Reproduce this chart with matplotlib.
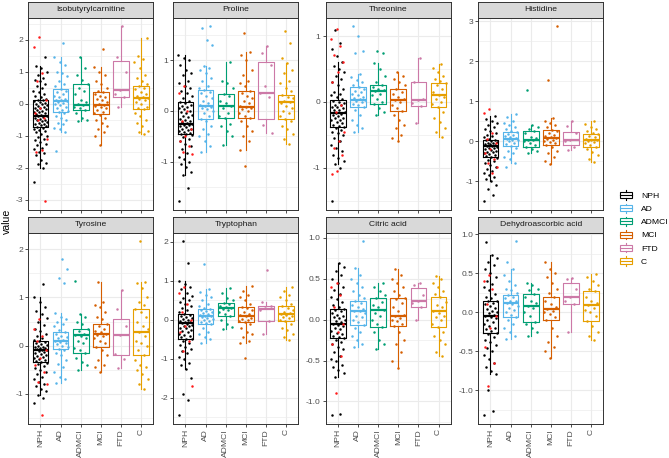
import numpy as np
import matplotlib
matplotlib.use('Agg')
import matplotlib.pyplot as plt
from matplotlib.patches import Patch, Rectangle
from matplotlib.lines import Line2D
from matplotlib.legend_handler import HandlerBase
from matplotlib.ticker import AutoMinorLocator

plt.rcParams['font.family'] = ['Liberation Sans', 'DejaVu Sans']
plt.rcParams['axes.unicode_minus'] = False

groups = ["NPH", "AD", "ADMCI", "MCI", "FTD", "C"]
colors = ["#000000", "#56B4E9", "#009E73", "#D55E00", "#CC79A7", "#E69F00"]
panel_names = ["Isobutyrylcarnitine", "Proline", "Threonine", "Histidine",
               "Tyrosine", "Tryptophan", "Citric acid", "Dehydroascorbic acid"]

# box stats per group: (whisker low, q1, median, q3, whisker high)
iso_box = [(-2.0, -0.73, -0.39, 0.12, 1.18), (-0.89, -0.26, 0.07, 0.46, 1.45),
           (-0.55, -0.19, -0.04, 0.62, 1.47), (-1.30, -0.31, -0.04, 0.35, 1.16),
           (-0.10, 0.21, 0.42, 1.32, 2.42), (-0.95, -0.17, 0.18, 0.54, 2.04)]
pro_box = [(-1.27, -0.46, -0.25, 0.17, 1.10), (-0.80, -0.15, 0.10, 0.41, 0.89),
           (-0.68, -0.14, 0.10, 0.34, 0.96), (-0.76, -0.13, 0.07, 0.40, 1.16),
           (-0.43, -0.15, 0.35, 0.96, 1.29), (-0.66, -0.15, 0.17, 0.32, 0.95)]
thr_box = [(-0.94, -0.38, -0.17, 0.025, 0.60), (-0.46, -0.07, 0.035, 0.22, 0.43),
           (-0.20, -0.03, 0.16, 0.25, 0.59), (-0.60, -0.14, 0.03, 0.20, 0.46),
           (-0.32, -0.06, 0.03, 0.31, 0.66), (-0.53, -0.08, 0.11, 0.28, 0.58)]
his_box = [(-1.00, -0.39, -0.12, 0.02, 0.62), (-0.54, -0.12, 0.06, 0.22, 0.69),
           (-0.29, -0.15, 0.04, 0.25, 0.41), (-0.56, -0.10, 0.07, 0.27, 0.58),
           (-0.23, -0.10, 0.04, 0.23, 0.51), (-0.51, -0.14, 0.02, 0.17, 0.50)]
tyr_box = [(-1.02, -0.34, -0.10, 0.10, 1.00), (-0.78, -0.07, 0.10, 0.28, 0.67),
           (-0.50, -0.16, 0.21, 0.34, 0.65), (-0.55, -0.02, 0.24, 0.45, 1.32),
           (-0.47, -0.19, 0.22, 0.56, 1.15), (-0.90, -0.19, 0.28, 0.75, 1.32)]
trp_box = [(-1.25, -0.48, -0.08, 0.15, 0.99), (-0.59, -0.10, 0.09, 0.27, 0.78),
           (-0.23, 0.09, 0.31, 0.44, 0.82), (-0.60, -0.06, 0.09, 0.33, 0.87),
           (-0.37, -0.02, 0.29, 0.36, 0.46), (-0.52, -0.02, 0.14, 0.36, 0.85)]
cit_box = [(-0.70, -0.23, -0.05, 0.13, 0.69), (-0.33, -0.06, 0.11, 0.23, 0.63),
           (-0.36, -0.09, 0.12, 0.26, 0.45), (-0.59, -0.08, 0.04, 0.27, 0.62),
           (-0.01, 0.15, 0.23, 0.39, 0.45), (-0.44, -0.09, 0.11, 0.28, 0.53)]
dha_box = [(-0.79, -0.26, -0.05, 0.15, 0.73), (-0.34, -0.06, 0.12, 0.22, 0.56),
           (-0.30, -0.12, 0.08, 0.24, 0.38), (-0.58, -0.10, 0.04, 0.20, 0.65),
           (-0.25, 0.10, 0.20, 0.37, 0.44), (-0.36, -0.11, 0.09, 0.27, 0.49)]

# individual points per group (NPH, AD, ADMCI, MCI, FTD, C)
iso_pts = [
    [-2.45, -2.0, -1.9, -1.85, -1.75, -1.6, -1.55, -1.5, -1.42, -1.4, -1.3, -1.25, -1.2,
     -1.15, -1.1, -1.05, -1.0, -0.95, -0.9, -0.85, -0.82, -0.8, -0.76, -0.74, -0.7, -0.68,
     -0.65, -0.62, -0.6, -0.58, -0.55, -0.52, -0.5, -0.47, -0.45, -0.42, -0.4, -0.38, -0.35,
     -0.32, -0.3, -0.27, -0.25, -0.22, -0.2, -0.17, -0.15, -0.12, -0.1, -0.07, -0.05, -0.02,
     0.0, 0.03, 0.05, 0.08, 0.1, 0.12, 0.15, 0.2, 0.25, 0.3, 0.35, 0.4, 0.5, 0.55, 0.6, 0.7,
     0.75, 0.8, 0.9, 1.0, 1.1, 1.18, 1.47],
    [-1.47, -0.89, -0.8, -0.75, -0.65, -0.6, -0.5, -0.45, -0.38, -0.3, -0.26, -0.22, -0.2,
     -0.15, -0.1, -0.05, 0.0, 0.03, 0.05, 0.07, 0.1, 0.12, 0.15, 0.2, 0.25, 0.3, 0.35, 0.4,
     0.46, 0.55, 0.62, 0.7, 0.85, 0.95, 1.0, 1.2, 1.3, 1.45, 1.9],
    [-0.55, -0.5, -0.45, -0.3, -0.2, -0.15, -0.1, -0.05, 0.0, 0.05, 0.1, 0.3, 0.4, 0.5,
     0.62, 0.75, 0.9, 1.1, 1.47],
    [-1.3, -1.0, -0.9, -0.8, -0.7, -0.6, -0.5, -0.45, -0.35, -0.3, -0.25, -0.2, -0.15, -0.1,
     -0.06, -0.04, 0.0, 0.05, 0.1, 0.15, 0.2, 0.25, 0.3, 0.35, 0.4, 0.5, 0.6, 0.7, 0.9, 1.0,
     1.16, 1.71],
    [2.42, 1.47, 1.0, 0.42, 0.3, 0.22, -0.1],
    [-0.95, -0.9, -0.85, -0.7, -0.6, -0.5, -0.4, -0.3, -0.17, -0.12, -0.1, 0.0, 0.05, 0.1,
     0.15, 0.18, 0.22, 0.25, 0.3, 0.35, 0.45, 0.5, 0.54, 0.6, 0.7, 0.8, 0.9, 1.1, 1.3, 1.4,
     1.5, 2.04]]
iso_red = [2.07, 1.78, 0.95, 0.72, 0.1, -0.15, -0.3, -0.45, -0.5, -1.1, -1.45, -1.5, -3.05]

pro_pts = [
    [-1.78, -1.52, -1.27, -1.2, -1.1, -1.05, -1.0, -0.95, -0.9, -0.82, -0.75, -0.7, -0.65,
     -0.6, -0.55, -0.52, -0.48, -0.46, -0.45, -0.43, -0.42, -0.4, -0.38, -0.36, -0.35, -0.32,
     -0.3, -0.28, -0.27, -0.25, -0.23, -0.22, -0.2, -0.18, -0.15, -0.12, -0.1, -0.08, -0.05,
     -0.02, 0.0, 0.03, 0.05, 0.08, 0.1, 0.12, 0.15, 0.17, 0.2, 0.25, 0.3, 0.35, 0.4, 0.45,
     0.5, 0.55, 0.6, 0.7, 0.75, 0.8, 0.9, 1.0, 1.05, 1.1],
    [-0.8, -0.7, -0.6, -0.5, -0.45, -0.35, -0.3, -0.2, -0.15, -0.1, -0.05, 0.0, 0.03, 0.05,
     0.08, 0.1, 0.12, 0.15, 0.2, 0.25, 0.3, 0.35, 0.38, 0.41, 0.45, 0.5, 0.6, 0.65, 0.75,
     0.8, 0.85, 0.89, 1.3, 1.4, 1.63, 1.67],
    [-0.68, -0.5, -0.4, -0.3, -0.25, -0.14, -0.1, -0.05, 0.05, 0.1, 0.15, 0.2, 0.3, 0.34,
     0.45, 0.55, 0.6, 0.96],
    [-1.08, -0.76, -0.6, -0.5, -0.4, -0.3, -0.2, -0.13, -0.1, -0.05, 0.0, 0.03, 0.05, 0.07,
     0.1, 0.15, 0.2, 0.25, 0.3, 0.35, 0.4, 0.5, 0.55, 0.6, 0.7, 0.8, 1.0, 1.1, 1.16, 1.53],
    [1.29, 1.15, 0.9, 0.5, 0.35, 0.28, -0.27, -0.43],
    [-0.66, -0.55, -0.45, -0.35, -0.3, -0.2, -0.15, -0.1, -0.05, 0.0, 0.05, 0.1, 0.15,
     0.17, 0.2, 0.25, 0.28, 0.32, 0.4, 0.45, 0.55, 0.6, 0.75, 0.8, 0.95, 1.05, 1.33, 1.57]]
pro_red = [0.5, 0.35, 0.0, -0.2, -0.35, -0.5, -0.6, -0.7, -0.8, -0.85]

thr_pts = [
    [-1.51, -1.0, -0.94, -0.9, -0.85, -0.8, -0.75, -0.7, -0.65, -0.6, -0.55, -0.5, -0.48,
     -0.45, -0.42, -0.4, -0.38, -0.36, -0.35, -0.32, -0.3, -0.28, -0.27, -0.25, -0.24,
     -0.22, -0.2, -0.18, -0.17, -0.15, -0.13, -0.12, -0.1, -0.08, -0.07, -0.05, -0.04,
     -0.02, 0.0, 0.02, 0.05, 0.08, 0.1, 0.12, 0.15, 0.2, 0.25, 0.3, 0.35, 0.4, 0.45, 0.5,
     0.55, 0.6, 0.7, 0.8, 0.9, 1.1],
    [-0.46, -0.4, -0.35, -0.28, -0.2, -0.12, -0.07, -0.05, -0.03, 0.0, 0.02, 0.03, 0.05,
     0.06, 0.08, 0.1, 0.12, 0.15, 0.17, 0.2, 0.22, 0.25, 0.3, 0.34, 0.38, 0.43, 0.75, 0.77,
     1.0, 1.15],
    [-0.2, -0.15, -0.1, -0.03, 0.0, 0.05, 0.1, 0.12, 0.16, 0.18, 0.2, 0.22, 0.25, 0.3, 0.4,
     0.5, 0.59, 0.74, 0.78],
    [-0.6, -0.55, -0.5, -0.4, -0.35, -0.28, -0.2, -0.14, -0.1, -0.05, 0.0, 0.03, 0.05,
     0.08, 0.12, 0.15, 0.2, 0.25, 0.3, 0.35, 0.4, 0.46],
    [0.66, 0.3, 0.05, 0.03, -0.02, -0.06, -0.32],
    [-0.53, -0.45, -0.4, -0.3, -0.25, -0.15, -0.08, -0.03, 0.0, 0.05, 0.08, 0.11, 0.15,
     0.2, 0.25, 0.28, 0.32, 0.35, 0.4, 0.45, 0.52, 0.58]]
thr_red = [1.11, 0.95, 0.85, 0.72, 0.6, 0.45, 0.3, -0.05, -0.15, -0.45, -0.6, -0.7, -0.8,
           -1.05, -1.1]

his_pts = [
    [-1.5, -1.35, -1.2, -1.1, -1.0, -0.95, -0.9, -0.85, -0.8, -0.75, -0.7, -0.65, -0.6,
     -0.55, -0.5, -0.46, -0.42, -0.4, -0.38, -0.35, -0.33, -0.3, -0.28, -0.26, -0.24,
     -0.22, -0.2, -0.18, -0.16, -0.14, -0.13, -0.12, -0.1, -0.08, -0.07, -0.05, -0.04,
     -0.02, 0.0, 0.02, 0.04, 0.06, 0.1, 0.13, 0.15, 0.2, 0.25, 0.3, 0.35, 0.4, 0.45, 0.5,
     0.55, 0.62],
    [-0.65, -0.54, -0.45, -0.4, -0.3, -0.25, -0.18, -0.12, -0.08, -0.05, 0.0, 0.02, 0.04,
     0.06, 0.08, 0.1, 0.12, 0.15, 0.18, 0.22, 0.25, 0.3, 0.35, 0.4, 0.45, 0.5, 0.6, 0.69],
    [-0.29, -0.25, -0.2, -0.15, -0.1, -0.05, 0.0, 0.02, 0.04, 0.08, 0.1, 0.2, 0.25, 0.3,
     0.35, 0.41, 1.28],
    [-0.56, -0.5, -0.4, -0.3, -0.25, -0.15, -0.1, -0.05, -0.03, 0.0, 0.02, 0.05, 0.07, 0.1,
     0.12, 0.15, 0.2, 0.25, 0.27, 0.35, 0.4, 0.45, 0.5, 0.58, 1.52, 2.87],
    [0.51, 0.38, 0.2, 0.04, 0.0, -0.15, -0.23],
    [-0.51, -0.45, -0.35, -0.28, -0.2, -0.14, -0.1, -0.05, -0.02, 0.0, 0.02, 0.04, 0.06,
     0.1, 0.13, 0.17, 0.2, 0.25, 0.3, 0.35, 0.42, 0.5]]
his_red = [0.8, 0.7, 0.2, 0.05, -0.05, -0.2, -0.3, -0.45, -0.55, -0.65, -0.8]

tyr_pts = [
    [-1.2, -1.1, -1.02, -0.95, -0.9, -0.85, -0.8, -0.75, -0.7, -0.65, -0.6, -0.55, -0.5,
     -0.46, -0.42, -0.38, -0.36, -0.34, -0.32, -0.3, -0.28, -0.26, -0.24, -0.22, -0.2,
     -0.18, -0.16, -0.14, -0.12, -0.1, -0.09, -0.08, -0.06, -0.05, -0.03, -0.02, 0.0, 0.02,
     0.03, 0.06, 0.08, 0.1, 0.12, 0.15, 0.2, 0.25, 0.3, 0.35, 0.42, 0.5, 0.58, 0.65, 0.72,
     0.8, 0.9, 1.0, 1.28],
    [-0.78, -0.7, -0.65, -0.55, -0.45, -0.38, -0.3, -0.2, -0.15, -0.1, -0.07, -0.03, 0.0,
     0.03, 0.05, 0.08, 0.1, 0.12, 0.15, 0.18, 0.2, 0.25, 0.28, 0.32, 0.4, 0.45, 0.5, 0.55,
     0.6, 0.67, 1.3, 1.4, 1.6, 1.8],
    [-0.5, -0.4, -0.35, -0.25, -0.16, -0.1, -0.05, 0.05, 0.1, 0.15, 0.2, 0.21, 0.25, 0.3,
     0.34, 0.45, 0.5, 0.6, 0.65, 1.35],
    [-0.55, -0.45, -0.4, -0.3, -0.2, -0.1, -0.02, 0.05, 0.1, 0.15, 0.2, 0.22, 0.24, 0.28,
     0.3, 0.35, 0.4, 0.45, 0.55, 0.6, 0.7, 0.8, 0.85, 0.9, 1.32],
    [1.15, 0.75, 0.4, 0.22, -0.18, -0.27, -0.47],
    [-0.9, -0.8, -0.7, -0.6, -0.5, -0.45, -0.4, -0.3, -0.19, -0.1, 0.0, 0.05, 0.1, 0.2,
     0.28, 0.35, 0.4, 0.5, 0.6, 0.7, 0.75, 0.85, 0.9, 1.0, 1.2, 1.3, 1.32, 2.17]]
tyr_red = [0.55, 0.35, 0.2, 0.1, -0.1, -0.25, -0.4, -0.55, -0.75, -0.8, -1.45]

trp_pts = [
    [-2.45, -2.05, -1.9, -1.5, -1.25, -1.15, -1.1, -1.0, -0.95, -0.85, -0.8, -0.75, -0.7,
     -0.65, -0.6, -0.55, -0.5, -0.48, -0.45, -0.42, -0.4, -0.35, -0.3, -0.28, -0.25, -0.22,
     -0.2, -0.17, -0.15, -0.12, -0.1, -0.08, -0.06, -0.05, -0.03, 0.0, 0.02, 0.05, 0.08,
     0.1, 0.12, 0.15, 0.2, 0.25, 0.3, 0.35, 0.4, 0.45, 0.5, 0.55, 0.62, 0.7, 0.78, 0.85,
     0.92, 0.99, 1.47, 2.02],
    [-0.59, -0.5, -0.45, -0.35, -0.3, -0.2, -0.1, -0.07, -0.05, -0.02, 0.0, 0.03, 0.05,
     0.07, 0.09, 0.1, 0.12, 0.15, 0.18, 0.2, 0.22, 0.25, 0.27, 0.3, 0.35, 0.42, 0.5, 0.58,
     0.65, 0.72, 0.78, 1.43],
    [-0.23, -0.18, -0.1, 0.0, 0.09, 0.15, 0.2, 0.25, 0.28, 0.31, 0.33, 0.35, 0.4, 0.44,
     0.5, 0.55, 0.7, 0.82],
    [-0.97, -0.6, -0.55, -0.45, -0.35, -0.3, -0.2, -0.1, -0.06, -0.02, 0.0, 0.03, 0.05,
     0.09, 0.12, 0.15, 0.2, 0.25, 0.3, 0.33, 0.4, 0.5, 0.6, 0.65, 0.75, 0.87],
    [1.27, 0.46, 0.36, 0.3, 0.25, -0.02, -0.37],
    [-0.52, -0.45, -0.35, -0.25, -0.2, -0.1, -0.02, 0.0, 0.05, 0.08, 0.1, 0.12, 0.14,
     0.18, 0.2, 0.25, 0.3, 0.36, 0.42, 0.5, 0.6, 0.65, 0.75, 0.85]]
trp_red = [0.85, 0.7, 0.4, 0.2, 0.0, -0.15, -0.3, -0.55, -0.8, -1.7]

cit_pts = [
    [-1.17, -1.15, -0.7, -0.65, -0.62, -0.58, -0.55, -0.5, -0.48, -0.44, -0.4, -0.36,
     -0.33, -0.3, -0.27, -0.25, -0.23, -0.21, -0.2, -0.18, -0.16, -0.14, -0.12, -0.1,
     -0.08, -0.06, -0.05, -0.03, -0.02, 0.0, 0.02, 0.03, 0.05, 0.06, 0.08, 0.1, 0.12, 0.13,
     0.16, 0.18, 0.22, 0.25, 0.28, 0.32, 0.36, 0.4, 0.45, 0.5, 0.55, 0.6, 0.65, 0.69],
    [-0.33, -0.3, -0.25, -0.2, -0.15, -0.1, -0.06, -0.03, 0.0, 0.03, 0.05, 0.08, 0.1, 0.11,
     0.13, 0.15, 0.18, 0.2, 0.23, 0.27, 0.3, 0.35, 0.4, 0.45, 0.5, 0.55, 0.63, 0.96],
    [-0.36, -0.3, -0.25, -0.15, -0.09, -0.05, 0.0, 0.05, 0.08, 0.12, 0.15, 0.18, 0.22,
     0.26, 0.3, 0.35, 0.4, 0.45],
    [-0.59, -0.5, -0.4, -0.3, -0.25, -0.15, -0.08, -0.05, -0.02, 0.0, 0.02, 0.04, 0.06,
     0.1, 0.15, 0.2, 0.25, 0.27, 0.3, 0.35, 0.4, 0.45, 0.5, 0.55, 0.62],
    [0.45, 0.42, 0.3, 0.23, 0.2, 0.15, -0.01],
    [-0.44, -0.4, -0.3, -0.25, -0.2, -0.15, -0.09, -0.05, 0.0, 0.03, 0.05, 0.08, 0.11,
     0.15, 0.18, 0.22, 0.28, 0.32, 0.35, 0.4, 0.45, 0.5, 0.53]]
cit_red = [0.45, 0.4, 0.3, 0.15, -0.05, -0.15, -0.3, -0.45, -0.9]

dha_pts = [
    [-1.32, -1.27, -1.0, -0.79, -0.75, -0.7, -0.65, -0.6, -0.55, -0.5, -0.46, -0.42, -0.38,
     -0.35, -0.32, -0.28, -0.26, -0.24, -0.22, -0.2, -0.18, -0.15, -0.13, -0.1, -0.08,
     -0.06, -0.05, -0.03, -0.01, 0.0, 0.02, 0.04, 0.06, 0.08, 0.1, 0.12, 0.14, 0.15, 0.18,
     0.2, 0.24, 0.28, 0.32, 0.36, 0.4, 0.45, 0.5, 0.55, 0.6, 0.65, 0.7, 0.73, 0.9],
    [-0.34, -0.3, -0.25, -0.2, -0.15, -0.1, -0.06, -0.03, 0.0, 0.03, 0.05, 0.08, 0.1, 0.12,
     0.14, 0.15, 0.18, 0.2, 0.22, 0.25, 0.28, 0.3, 0.35, 0.4, 0.48, 0.56, 0.65, 0.91],
    [-0.3, -0.25, -0.2, -0.15, -0.12, -0.05, 0.0, 0.05, 0.08, 0.12, 0.15, 0.2, 0.24, 0.28,
     0.3, 0.35, 0.38],
    [-0.58, -0.5, -0.45, -0.38, -0.3, -0.2, -0.1, -0.06, -0.02, 0.0, 0.02, 0.04, 0.07, 0.1,
     0.15, 0.2, 0.25, 0.3, 0.38, 0.45, 0.5, 0.55, 0.65],
    [0.44, 0.42, 0.3, 0.2, 0.15, 0.1, -0.25],
    [-0.36, -0.3, -0.25, -0.18, -0.11, -0.05, 0.0, 0.03, 0.05, 0.09, 0.12, 0.15, 0.2, 0.27,
     0.3, 0.35, 0.4, 0.45, 0.49]]
dha_red = [0.48, 0.4, 0.3, 0.1, -0.05, -0.2, -0.45, -0.65, -0.95]

iso_ticks = [-3, -2, -1, 0, 1, 2]
pro_ticks = [-1, 0, 1]
thr_ticks = [-1, 0, 1]
his_ticks = [-1, 0, 1, 2, 3]
tyr_ticks = [-1, 0, 1, 2]
trp_ticks = [-2, -1, 0, 1, 2]
cit_ticks = [-1.0, -0.5, 0.0, 0.5, 1.0]
dha_ticks = [-1.0, -0.5, 0.0, 0.5, 1.0]

boxes = [iso_box, pro_box, thr_box, his_box, tyr_box, trp_box, cit_box, dha_box]
points = [iso_pts, pro_pts, thr_pts, his_pts, tyr_pts, trp_pts, cit_pts, dha_pts]
reds = [iso_red, pro_red, thr_red, his_red, tyr_red, trp_red, cit_red, dha_red]
ticks = [iso_ticks, pro_ticks, thr_ticks, his_ticks, tyr_ticks, trp_ticks, cit_ticks, dha_ticks]


def jitter(n, phase):
    # deterministic spread of points across the width of the box
    return ((np.arange(n) * 0.618034 + phase) % 1 - 0.5) * 0.7


W, H = 669, 458
fig = plt.figure(figsize=(W / 100, H / 100), dpi=100)


def px_axes(x0, y0, x1, y1):
    return fig.add_axes([x0 / W, 1 - y1 / H, (x1 - x0) / W, (y1 - y0) / H])


col_left = [28.3, 173.3, 325.7, 478.3]
row_top = [17.5, 232.5]
row_bottom = [210, 424]
pw = 125
strip_h = 16
fs = 6.1
dark = "#333333"

for i, name in enumerate(panel_names):
    r, c = divmod(i, 4)
    ax = px_axes(col_left[c], row_top[r], col_left[c] + pw, row_bottom[r])
    st = px_axes(col_left[c], row_top[r] - strip_h, col_left[c] + pw, row_top[r])

    # strip
    st.set_facecolor("#D9D9D9")
    st.set_xticks([])
    st.set_yticks([])
    for s in st.spines.values():
        s.set_color(dark)
        s.set_linewidth(0.7)
    st.text(0.5, 0.5, name, ha='center', va='center', fontsize=fs, color="#1A1A1A",
            transform=st.transAxes)

    allv = []
    for k, (stats, col) in enumerate(zip(boxes[i], colors)):
        lo, q1, med, q3, hi = stats
        ax.bxp([dict(whislo=lo, q1=q1, med=med, q3=q3, whishi=hi, fliers=[])],
               positions=[k + 1], widths=0.78, showcaps=False, showfliers=False,
               manage_ticks=False,
               boxprops=dict(color=col, lw=0.8),
               whiskerprops=dict(color=col, lw=0.8),
               medianprops=dict(color=col, lw=1.6))
        vals = points[i][k]
        ax.scatter(k + 1 + jitter(len(vals), 0.13 * k + 0.07), vals, s=3.2, color=col,
                   lw=0, zorder=3)
        allv += list(vals) + [lo, hi]
    red = reds[i]
    ax.scatter(1 + jitter(len(red), 0.41), red, s=3.2, color="#FF1A1A", lw=0, zorder=4)
    allv += list(red)

    lo, hi = min(allv), max(allv)
    pad = 0.05 * (hi - lo)
    ax.set_ylim(lo - pad, hi + pad)
    ax.set_xlim(0.4, 6.6)

    tk = ticks[i]
    ax.set_yticks(tk)
    if isinstance(tk[0], float):
        ax.set_yticklabels(["%.1f" % t for t in tk])
    else:
        ax.set_yticklabels(["%d" % t for t in tk])
    ax.yaxis.set_minor_locator(AutoMinorLocator(2))
    ax.set_xticks(range(1, 7))
    if r == 1:
        ax.set_xticklabels(groups, rotation=90)
    else:
        ax.set_xticklabels([])
        ax.tick_params(axis='x', length=0)

    ax.grid(which='major', color="#EBEBEB", lw=0.8)
    ax.grid(which='minor', axis='y', color="#EBEBEB", lw=0.45)
    ax.set_axisbelow(True)
    ax.tick_params(which='major', length=2.2, width=0.6, color=dark, labelsize=fs,
                   labelcolor="#4D4D4D", pad=1.5)
    ax.tick_params(which='minor', length=0)
    for s in ax.spines.values():
        s.set_color(dark)
        s.set_linewidth(0.7)

fig.text(7 / W, 1 - 221 / H, "value", rotation=90, ha='center', va='center', fontsize=7.6)


class BoxKey(HandlerBase):
    def create_artists(self, legend, orig_handle, xd, yd, w, h, fontsize, trans):
        col = orig_handle.get_edgecolor()
        x0, y0 = -xd, -yd
        box = Rectangle((x0 + 0.1 * w, y0 + 0.25 * h), 0.8 * w, 0.5 * h, fill=False,
                        edgecolor=col, lw=0.8, transform=trans)
        w1 = Line2D([x0 + 0.5 * w] * 2, [y0 + 0.1 * h, y0 + 0.25 * h], color=col, lw=0.8,
                    transform=trans)
        w2 = Line2D([x0 + 0.5 * w] * 2, [y0 + 0.75 * h, y0 + 0.9 * h], color=col, lw=0.8,
                    transform=trans)
        md = Line2D([x0 + 0.1 * w, x0 + 0.9 * w], [y0 + 0.5 * h] * 2, color=col, lw=0.8,
                    transform=trans)
        return [box, w1, w2, md]


handles = [Patch(edgecolor=col, facecolor='none') for col in colors]
fig.legend(handles, groups, handler_map={Patch: BoxKey()}, loc='center left',
           bbox_to_anchor=(618 / W, 1 - 228 / H), frameon=False, fontsize=fs,
           handlelength=1.9, handleheight=1.77, labelspacing=0.16, handletextpad=0.8,
           borderpad=0, borderaxespad=0)

fig.savefig("out.png", dpi=100)
